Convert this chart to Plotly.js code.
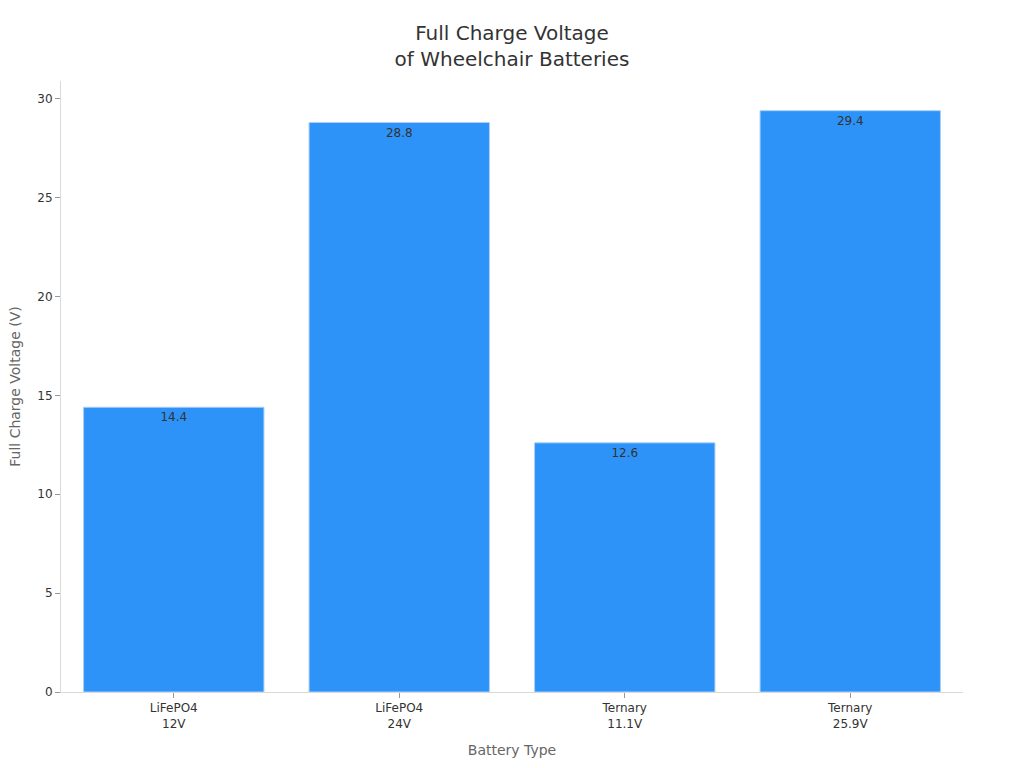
<!DOCTYPE html>
<html>
<head>
<meta charset="utf-8">
<script src="https://cdn.plot.ly/plotly-3.0.1.min.js"></script>
<style>
  html, body { margin: 0; padding: 0; background: #fff; }
  #chart { width: 1024px; height: 768px; }
</style>
</head>
<body>
<div id="chart"></div>
<script>
// battery types (tick labels) and full charge voltages
const batteryTypes = ["LiFePO4<br>12V", "LiFePO4<br>24V", "Ternary<br>11.1V", "Ternary<br>25.9V"];
const fullChargeVoltage = [14.4, 28.8, 12.6, 29.4];

const trace = {
  type: "bar",
  x: batteryTypes,
  y: fullChargeVoltage,
  text: fullChargeVoltage.map(v => v.toFixed(1)),
  textposition: "inside",
  insidetextanchor: "end",
  textangle: 0,
  textfont: { family: "DejaVu Sans", size: 12, color: "#333333" },
  marker: {
    color: "#2E93F8",
    line: { color: "#A9CFF7", width: 1 }
  },
  hoverinfo: "x+y"
};

const layout = {
  width: 1024,
  height: 768,
  margin: { l: 61, r: 61, t: 81, b: 76 },
  paper_bgcolor: "#ffffff",
  plot_bgcolor: "#ffffff",
  font: { family: "DejaVu Sans", size: 12, color: "#333333" },
  bargap: 0.2,
  showlegend: false,
  title: {
    text: "Full Charge Voltage<br>of Wheelchair Batteries",
    x: 0.5,
    xanchor: "center",
    y: 0.948,
    yanchor: "top",
    font: { family: "DejaVu Sans", size: 20, color: "#333333" }
  },
  xaxis: {
    title: { text: "Battery Type", font: { size: 14, color: "#666666" }, standoff: 15 },
    showline: true,
    linecolor: "#d9d9d9",
    ticks: "outside",
    tickcolor: "#999999",
    ticklen: 5,
    showgrid: false,
    tickfont: { size: 12, color: "#333333" }
  },
  yaxis: {
    title: { text: "Full Charge Voltage (V)", font: { size: 14, color: "#666666" }, standoff: 13 },
    range: [0, 30.9],
    dtick: 5,
    showline: true,
    linecolor: "#d9d9d9",
    ticks: "outside",
    tickcolor: "#999999",
    ticklen: 5,
    showgrid: false,
    zeroline: false,
    tickfont: { size: 12, color: "#333333" }
  }
};

Plotly.newPlot("chart", [trace], layout, { displayModeBar: false, responsive: false });
</script>
</body>
</html>
